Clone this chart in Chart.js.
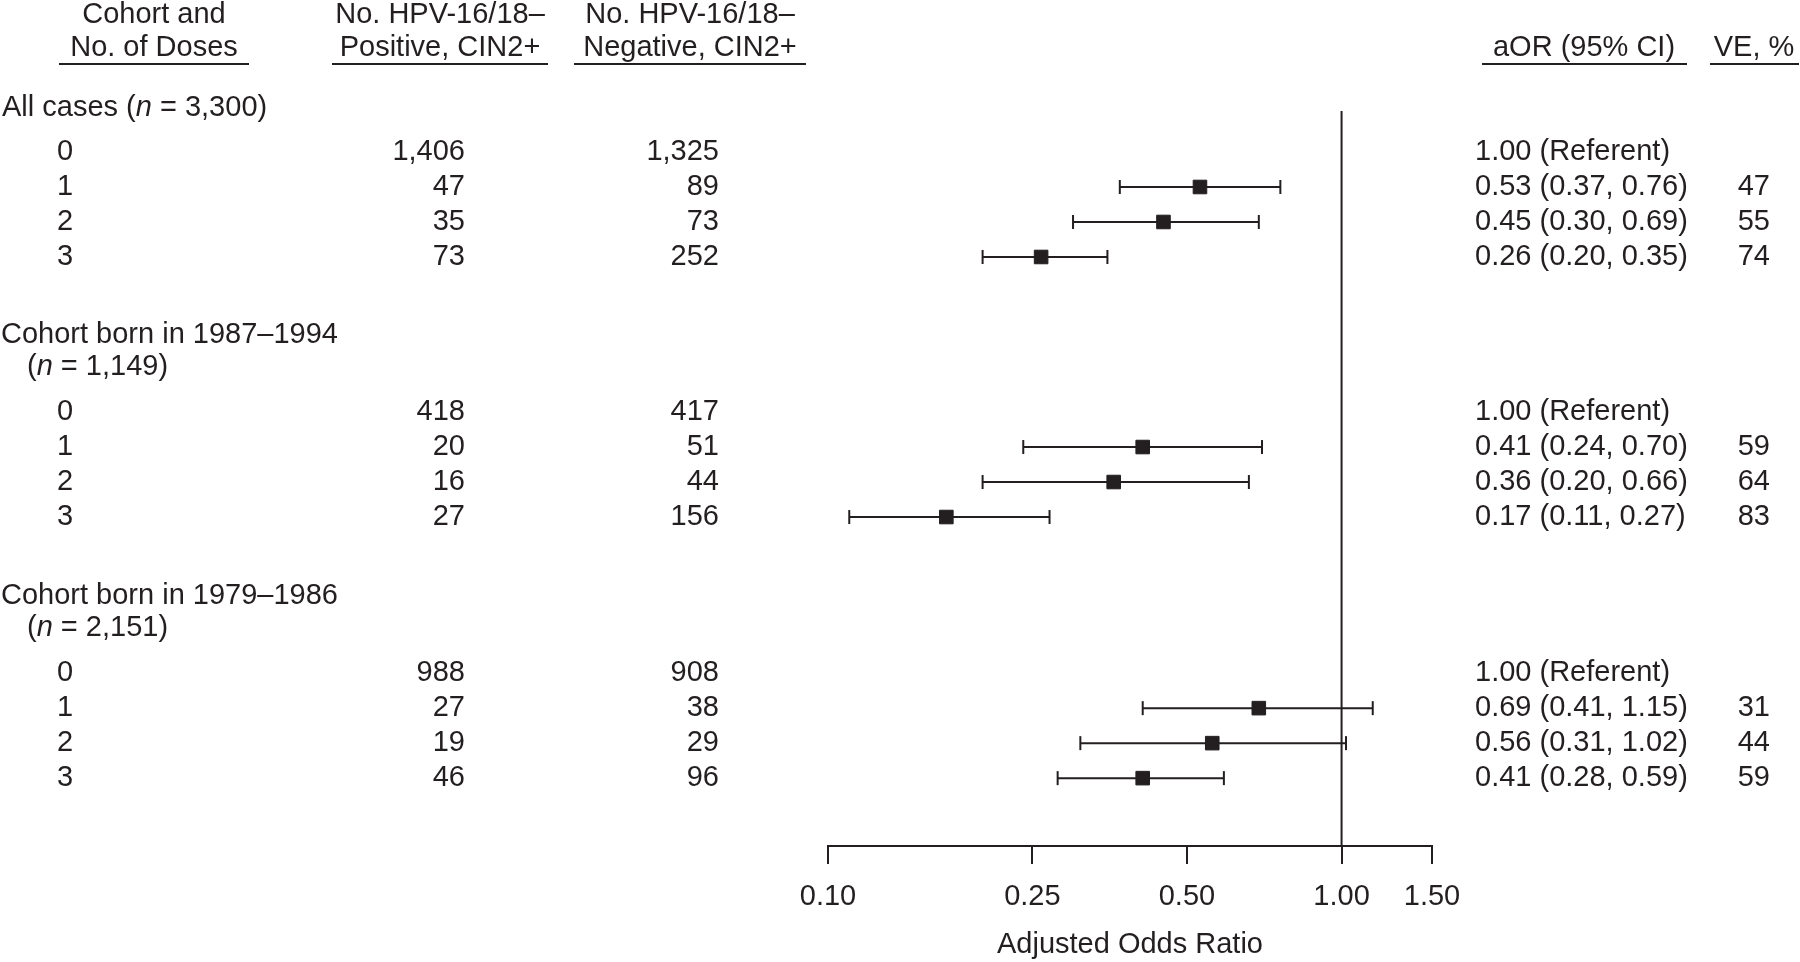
<!DOCTYPE html>
<html>
<head>
<meta charset="utf-8">
<script src="https://cdn.jsdelivr.net/npm/chart.js@4/dist/chart.umd.min.js"></script>
<style>
  html, body { margin: 0; padding: 0; background: #ffffff; }
  canvas { display: block; }
</style>
</head>
<body>
<canvas id="forest" width="1800" height="962"></canvas>
<script>
// Data
const groupNames = ["All cases", "Cohort born in 1987\u20131994", "Cohort born in 1979\u20131986"];
const groupN = ["3,300", "1,149", "2,151"];
const doses = [0, 1, 2, 3];
const positiveCases = [
  [1406, 47, 35, 73],
  [418, 20, 16, 27],
  [988, 27, 19, 46],
];
const negativeCases = [
  [1325, 89, 73, 252],
  [417, 51, 44, 156],
  [908, 38, 29, 96],
];
const aor = [
  [1.0, 0.53, 0.45, 0.26],
  [1.0, 0.41, 0.36, 0.17],
  [1.0, 0.69, 0.56, 0.41],
];
const ciLower = [
  [null, 0.37, 0.3, 0.2],
  [null, 0.24, 0.2, 0.11],
  [null, 0.41, 0.31, 0.28],
];
const ciUpper = [
  [null, 0.76, 0.69, 0.35],
  [null, 0.7, 0.66, 0.27],
  [null, 1.15, 1.02, 0.59],
];
const ve = [
  [null, 47, 55, 74],
  [null, 59, 64, 83],
  [null, 31, 44, 59],
];
const xTicks = [0.1, 0.25, 0.5, 1.0, 1.5];

const ink = "#231f20";
const fontFamily = "'Liberation Sans', Arial, Helvetica, sans-serif";
const fontSize = 29;

// row position of each group (in row units, top to bottom)
const groupStart = [0, 7.43, 14.89];
function rowSlot(g, d) {
  return groupStart[g] + d;
}

// estimates and intervals
let pointData = [];
let ciDatasets = [];
for (let g = 0; g < groupNames.length; g++) {
  for (let d = 0; d < doses.length; d++) {
    if (ciLower[g][d] === null) continue; // referent row, nothing drawn
    pointData.push({ x: aor[g][d], y: rowSlot(g, d) });
    ciDatasets.push({
      type: "line",
      data: [
        { x: ciLower[g][d], y: rowSlot(g, d) },
        { x: ciUpper[g][d], y: rowSlot(g, d) },
      ],
      borderColor: ink,
      borderWidth: 2,
      pointStyle: "line",
      pointRotation: 90,
      pointRadius: 7,
      pointBorderWidth: 2,
      pointBorderColor: ink,
      pointBackgroundColor: ink,
      order: 2,
    });
  }
}

const yMin = -1.171;
const yMax = yMin + 21;

function fmt(n) {
  return n.toLocaleString("en-US");
}

function setFont(ctx, italic) {
  ctx.font = (italic ? "italic " : "") + fontSize + "px " + fontFamily;
}

// draws text pieces in a row, some of them italic
function drawParts(ctx, parts, x, y) {
  let cx = x;
  ctx.textAlign = "left";
  for (let i = 0; i < parts.length; i++) {
    setFont(ctx, parts[i].i);
    ctx.fillText(parts[i].t, cx, y);
    cx += ctx.measureText(parts[i].t).width;
  }
}

// table text on both sides of the plot
const tablePlugin = {
  id: "tableText",
  afterDraw(chart) {
    const ctx = chart.ctx;
    const yScale = chart.scales.y;
    ctx.save();
    ctx.fillStyle = ink;
    ctx.strokeStyle = ink;
    ctx.textBaseline = "middle";
    setFont(ctx, false);

    // column headers
    const headers = [
      { lines: ["Cohort and", "No. of Doses"], cx: 154, ul: [59, 249] },
      { lines: ["No. HPV-16/18\u2013", "Positive, CIN2+"], cx: 440, ul: [332, 548] },
      { lines: ["No. HPV-16/18\u2013", "Negative, CIN2+"], cx: 690, ul: [574, 806] },
      { lines: ["aOR (95% CI)"], cx: 1584, ul: [1482, 1687] },
      { lines: ["VE, %"], cx: 1754, ul: [1710, 1799] },
    ];
    ctx.textAlign = "center";
    headers.forEach((h) => {
      if (h.lines.length === 2) {
        ctx.fillText(h.lines[0], h.cx, 15);
        ctx.fillText(h.lines[1], h.cx, 48);
      } else {
        ctx.fillText(h.lines[0], h.cx, 48);
      }
      ctx.lineWidth = 2;
      ctx.beginPath();
      ctx.moveTo(h.ul[0], 64);
      ctx.lineTo(h.ul[1], 64);
      ctx.stroke();
    });

    for (let g = 0; g < groupNames.length; g++) {
      // group label
      if (g === 0) {
        const y = yScale.getPixelForValue(rowSlot(g, 0) - 1.27);
        drawParts(ctx, [
          { t: groupNames[g] + " (", i: false },
          { t: "n", i: true },
          { t: " = " + groupN[g] + ")", i: false },
        ], 2, y);
      } else {
        const y1 = yScale.getPixelForValue(rowSlot(g, 0) - 2.2);
        const y2 = yScale.getPixelForValue(rowSlot(g, 0) - 1.3);
        drawParts(ctx, [{ t: groupNames[g], i: false }], 1, y1);
        drawParts(ctx, [
          { t: "(", i: false },
          { t: "n", i: true },
          { t: " = " + groupN[g] + ")", i: false },
        ], 27, y2);
      }

      // rows
      setFont(ctx, false);
      for (let d = 0; d < doses.length; d++) {
        const y = yScale.getPixelForValue(rowSlot(g, d));
        ctx.textAlign = "center";
        ctx.fillText(String(doses[d]), 65, y);
        ctx.textAlign = "right";
        ctx.fillText(fmt(positiveCases[g][d]), 465, y);
        ctx.fillText(fmt(negativeCases[g][d]), 719, y);
        ctx.textAlign = "left";
        let aorText;
        if (ciLower[g][d] === null) {
          aorText = aor[g][d].toFixed(2) + " (Referent)";
        } else {
          aorText = aor[g][d].toFixed(2) + " (" + ciLower[g][d].toFixed(2) + ", " + ciUpper[g][d].toFixed(2) + ")";
        }
        ctx.fillText(aorText, 1475, y);
        if (ve[g][d] !== null) {
          ctx.textAlign = "right";
          ctx.fillText(String(ve[g][d]), 1770, y);
        }
      }
    }
    ctx.restore();
  },
};

const ctxForest = document.getElementById("forest").getContext("2d");
new Chart(ctxForest, {
  type: "scatter",
  data: {
    datasets: [
      // line of no effect
      {
        type: "line",
        data: [
          { x: 1, y: yMin },
          { x: 1, y: yMax },
        ],
        borderColor: ink,
        borderWidth: 2,
        pointRadius: 0,
        order: 3,
      },
      ...ciDatasets,
      {
        data: pointData,
        pointStyle: "rect",
        pointRadius: 9.6,
        backgroundColor: ink,
        borderColor: ink,
        borderWidth: 1,
        order: 1,
      },
    ],
  },
  options: {
    responsive: false,
    animation: false,
    layout: {
      padding: { left: 828, right: 368, top: 111, bottom: 0 },
    },
    plugins: {
      legend: { display: false },
      tooltip: { enabled: false },
    },
    scales: {
      x: {
        type: "logarithmic",
        min: 0.1,
        max: 1.5,
        afterBuildTicks: (scale) => {
          scale.ticks = xTicks.map((v) => ({ value: v }));
        },
        afterFit: (scale) => {
          scale.height = 116;
        },
        ticks: {
          autoSkip: false,
          maxRotation: 0,
          minRotation: 0,
          padding: 16,
          color: ink,
          font: { family: fontFamily, size: fontSize },
          callback: (v) => Number(v).toFixed(2),
        },
        grid: {
          drawOnChartArea: false,
          drawTicks: true,
          tickLength: 18,
          color: ink,
          lineWidth: 2,
        },
        border: { display: true, color: ink, width: 2 },
        title: {
          display: true,
          text: "Adjusted Odds Ratio",
          color: ink,
          font: { family: fontFamily, size: fontSize },
          padding: 0,
        },
      },
      y: {
        type: "linear",
        display: false,
        reverse: true,
        min: yMin,
        max: yMax,
      },
    },
  },
  plugins: [tablePlugin],
});
</script>
</body>
</html>
